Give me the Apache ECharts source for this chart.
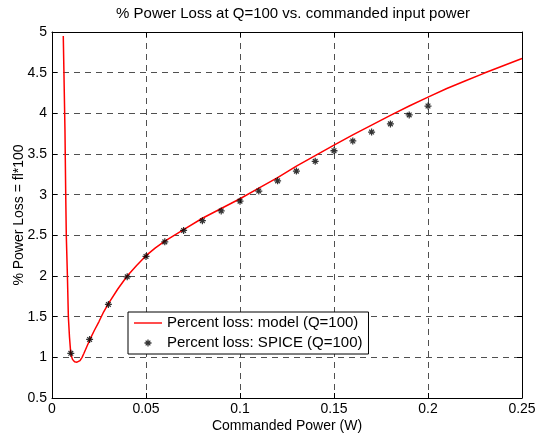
<!DOCTYPE html>
<html>
<head>
<meta charset="utf-8">
<script src="https://cdn.jsdelivr.net/npm/echarts@6/dist/echarts.min.js"></script>
<style>
  html, body { margin: 0; padding: 0; background: #fff; }
  #chart { width: 537px; height: 436px; }
</style>
</head>
<body>
<div id="chart"></div>
<script>
// Model curve: commanded power (W) and percent loss
const modelPower = [0.0060, 0.0069, 0.0073, 0.0076, 0.0082, 0.0087, 0.0093, 0.0099, 0.0104, 0.0109,
  0.0115, 0.0120, 0.0127, 0.0133, 0.0140, 0.0149, 0.0160, 0.0170, 0.0185, 0.0202,
  0.0225, 0.025, 0.0275, 0.030, 0.035, 0.040, 0.045, 0.050, 0.055,
  0.060, 0.065, 0.070, 0.080, 0.090, 0.100, 0.110, 0.120, 0.130, 0.140, 0.150,
  0.160, 0.170, 0.180, 0.190, 0.200, 0.210, 0.220, 0.230, 0.240, 0.250];
const modelLoss = [4.95, 3.79, 3.00, 2.50, 2.00, 1.50, 1.25, 1.07, 1.01, 0.975,
  0.955, 0.945, 0.94, 0.94, 0.945, 0.96, 1.00, 1.05, 1.13, 1.22,
  1.33, 1.44, 1.56, 1.66, 1.84, 2.00, 2.13, 2.25, 2.345,
  2.43, 2.50, 2.57, 2.71, 2.83, 2.95, 3.08, 3.21, 3.35, 3.48, 3.61,
  3.735, 3.855, 3.975, 4.09, 4.20, 4.305, 4.40, 4.495, 4.585, 4.675];

// SPICE simulation points
const spicePower = [0.01, 0.02, 0.03, 0.04, 0.05, 0.06, 0.07, 0.08, 0.09, 0.10,
  0.11, 0.12, 0.13, 0.14, 0.15, 0.16, 0.17, 0.18, 0.19, 0.20];
const spiceLoss = [1.05, 1.22, 1.65, 1.99, 2.24, 2.42, 2.56, 2.68, 2.80, 2.92,
  3.045, 3.17, 3.29, 3.41, 3.54, 3.66, 3.77, 3.87, 3.98, 4.09];

// Axis ticks
const xTicks = [0, 0.05, 0.1, 0.15, 0.2, 0.25];
const yTicks = [0.5, 1, 1.5, 2, 2.5, 3, 3.5, 4, 4.5, 5];

const seriesNames = ['Percent loss: model (Q=100)', 'Percent loss: SPICE (Q=100)'];

const FONT = 'Liberation Sans, Arial, Helvetica, sans-serif';
// asterisk marker: plus + cross
const STAR_BODY = 'M-0.9,-5L0.9,-5L0.9,5L-0.9,5Z M-5,-0.9L5,-0.9L5,0.9L-5,0.9Z M-4,-2.7L-2.7,-4L4,2.7L2.7,4Z M2.7,-4L4,-2.7L-2.7,4L-4,2.7Z';
const STAR = 'path://' + STAR_BODY;
// legend icon: same asterisk with an empty frame so it keeps marker size inside the 28x16 slot
const STAR_LEGEND = 'path://M-20,-11.4L-20,-11.4Z M20,11.4L20,11.4Z ' + STAR_BODY;

const fmt = v => String(parseFloat(Number(v).toFixed(3)));

const gridDash = { color: '#505050', width: 1, type: [6, 5] };

function xAxisCfg(pos, main) {
  return {
    type: 'value', position: pos,
    min: xTicks[0], max: xTicks[xTicks.length - 1], interval: 0.05,
    axisLine: { show: true, onZero: false, lineStyle: { color: '#000', width: 1 } },
    axisTick: { show: true, inside: true, length: 5, lineStyle: { color: '#000' } },
    axisLabel: { show: main, color: '#000', fontFamily: FONT, fontSize: 14, margin: 4, formatter: fmt },
    splitLine: { show: main, lineStyle: gridDash },
    name: main ? 'Commanded Power (W)' : '',
    nameLocation: 'middle', nameGap: 21, nameMoveOverlap: false,
    nameTextStyle: { color: '#000', fontFamily: FONT, fontSize: 14 }
  };
}
function yAxisCfg(pos, main) {
  return {
    type: 'value', position: pos,
    min: yTicks[0], max: yTicks[yTicks.length - 1], interval: 0.5,
    axisLine: { show: true, onZero: false, lineStyle: { color: '#000', width: 1 } },
    axisTick: { show: true, inside: true, length: 5, lineStyle: { color: '#000' } },
    axisLabel: { show: main, color: '#000', fontFamily: FONT, fontSize: 14, margin: 5, formatter: fmt },
    splitLine: { show: main, lineStyle: gridDash },
    name: main ? '% Power Loss = fl*100' : '',
    nameLocation: 'middle', nameGap: 26, nameRotate: 90, nameMoveOverlap: false,
    nameTextStyle: { color: '#000', fontFamily: FONT, fontSize: 14 }
  };
}

const chart = echarts.init(document.getElementById('chart'), null, { renderer: 'canvas' });
chart.setOption({
  animation: false,
  backgroundColor: '#fff',
  title: {
    text: '% Power Loss at Q=100 vs. commanded input power',
    left: 288, top: 1, textAlign: 'center',
    textStyle: { color: '#000', fontFamily: FONT, fontSize: 15, fontWeight: 'normal' }
  },
  grid: { left: 52, right: 15, top: 32, bottom: 38, outerBoundsMode: 'none', containLabel: false },
  xAxis: [xAxisCfg('bottom', true), xAxisCfg('top', false)],
  yAxis: [yAxisCfg('left', true), yAxisCfg('right', false)],
  legend: {
    orient: 'vertical', left: 128, top: 312,
    padding: [3, 6, 3, 6], itemGap: 4, itemWidth: 28, itemHeight: 16,
    backgroundColor: '#fff', borderColor: '#000', borderWidth: 1,
    textStyle: { color: '#000', fontFamily: FONT, fontSize: 15, lineHeight: 16 },
    data: [
      { name: seriesNames[0], icon: 'path://M0,7.3L28,7.3L28,8.7L0,8.7Z', itemStyle: { color: '#ff0000' } },
      { name: seriesNames[1], icon: STAR_LEGEND, itemStyle: { color: '#000' } }
    ]
  },
  series: [
    {
      name: seriesNames[0], type: 'line',
      xAxisIndex: 0, yAxisIndex: 0,
      data: modelPower.map((x, i) => [x, modelLoss[i]]),
      showSymbol: false, symbol: 'none',
      smooth: false,
      lineStyle: { color: '#ff0000', width: 1.5 },
      itemStyle: { color: '#ff0000' },
      z: 3
    },
    {
      name: seriesNames[1], type: 'scatter',
      xAxisIndex: 0, yAxisIndex: 0,
      data: spicePower.map((x, i) => [x, spiceLoss[i]]),
      symbol: STAR, symbolSize: 7,
      itemStyle: { color: '#000' },
      z: 4
    }
  ]
});
</script>
</body>
</html>
